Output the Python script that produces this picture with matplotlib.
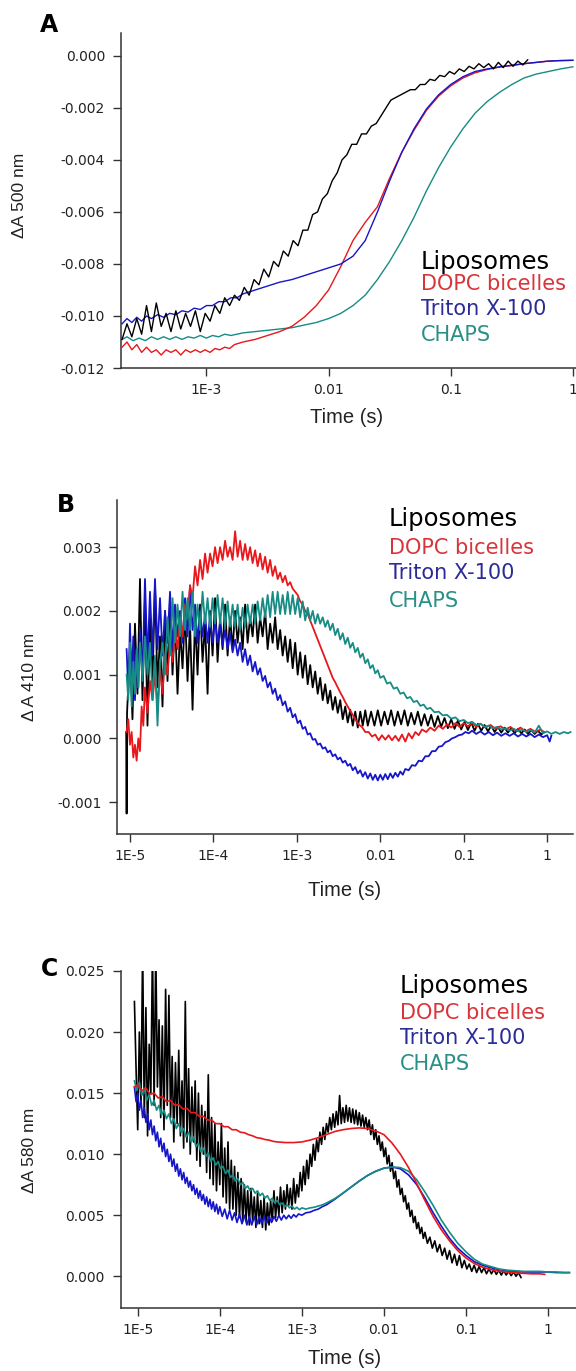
import matplotlib
matplotlib.use("Agg")
import matplotlib.pyplot as plt
from matplotlib.ticker import FixedLocator, NullLocator

plt.rcParams['axes.unicode_minus'] = False

# ---------------- data: (log10 time [s], value [milli dA]) ----------------
# Panel A : dA 500 nm
A_lipo = [(-3.69,-10.9),(-3.65,-10.3),(-3.61,-10.8),(-3.57,-10.1),(-3.53,-10.7),(-3.49,-9.6),(-3.45,-10.6),
          (-3.41,-9.5),(-3.37,-10.4),(-3.33,-9.9),(-3.29,-10.6),(-3.25,-9.8),(-3.21,-10.5),(-3.17,-9.9),
          (-3.13,-10.4),(-3.09,-9.8),(-3.05,-10.6),(-3.01,-9.9),(-2.97,-10.2),(-2.93,-9.6),(-2.89,-9.9),
          (-2.85,-9.3),(-2.81,-9.6),(-2.77,-9.2),(-2.73,-9.4),(-2.69,-8.9),(-2.65,-9.2),(-2.61,-8.6),
          (-2.57,-8.8),(-2.53,-8.2),(-2.49,-8.5),(-2.45,-7.9),(-2.41,-8.1),(-2.37,-7.5),(-2.33,-7.7),
          (-2.29,-7.1),(-2.25,-7.3),(-2.21,-6.7),(-2.17,-6.7),(-2.13,-6.1),(-2.09,-6.0),(-2.05,-5.5),
          (-2.01,-5.3),(-1.97,-4.8),(-1.93,-4.5),(-1.89,-4.0),(-1.85,-3.8),(-1.81,-3.4),(-1.77,-3.4),
          (-1.73,-3.0),(-1.69,-3.0),(-1.65,-2.7),(-1.61,-2.6),(-1.57,-2.3),(-1.53,-2.0),(-1.49,-1.7),
          (-1.45,-1.6),(-1.41,-1.5),(-1.37,-1.4),(-1.33,-1.3),(-1.29,-1.3),(-1.25,-1.1),(-1.21,-1.1),
          (-1.17,-0.9),(-1.13,-0.95),(-1.09,-0.75),(-1.05,-0.8),(-1.01,-0.6),(-0.97,-0.7),(-0.93,-0.5),
          (-0.89,-0.6),(-0.85,-0.4),(-0.81,-0.5),(-0.77,-0.3),(-0.73,-0.45),(-0.69,-0.3),(-0.65,-0.5),
          (-0.61,-0.25),(-0.57,-0.45),(-0.53,-0.2),(-0.49,-0.4),(-0.45,-0.2),(-0.41,-0.35),(-0.37,-0.15)]
A_dopc = [(-3.69,-11.2),(-3.65,-11.0),(-3.61,-11.3),(-3.57,-11.1),(-3.53,-11.4),(-3.49,-11.2),(-3.45,-11.4),
          (-3.41,-11.3),(-3.37,-11.5),(-3.33,-11.3),(-3.29,-11.4),(-3.25,-11.3),(-3.21,-11.5),(-3.17,-11.3),
          (-3.13,-11.4),(-3.09,-11.3),(-3.05,-11.4),(-3.01,-11.3),(-2.97,-11.4),(-2.93,-11.25),(-2.89,-11.3),
          (-2.85,-11.2),(-2.81,-11.25),(-2.77,-11.1),(-2.7,-11.0),(-2.6,-10.9),(-2.5,-10.75),(-2.4,-10.6),
          (-2.3,-10.4),(-2.2,-10.05),(-2.1,-9.6),(-2.0,-9.0),(-1.9,-8.1),(-1.8,-7.1),(-1.7,-6.4),
          (-1.6,-5.8),(-1.5,-4.7),(-1.4,-3.7),(-1.3,-2.85),(-1.2,-2.1),(-1.1,-1.55),(-1.0,-1.15),
          (-0.9,-0.85),(-0.8,-0.65),(-0.7,-0.52),(-0.6,-0.43),(-0.5,-0.37),(-0.4,-0.3),(-0.3,-0.25),
          (-0.2,-0.2),(-0.1,-0.18),(0.0,-0.17)]
A_triton = [(-3.69,-10.3),(-3.65,-10.1),(-3.61,-10.25),(-3.57,-10.05),(-3.53,-10.2),(-3.49,-10.0),(-3.45,-10.1),
            (-3.4,-9.95),(-3.35,-10.05),(-3.3,-9.9),(-3.25,-9.95),(-3.2,-9.8),(-3.15,-9.85),(-3.1,-9.7),
            (-3.05,-9.75),(-3.0,-9.6),(-2.95,-9.6),(-2.9,-9.45),(-2.85,-9.45),(-2.8,-9.3),(-2.75,-9.3),
            (-2.7,-9.15),(-2.6,-9.0),(-2.5,-8.85),(-2.4,-8.7),(-2.3,-8.6),(-2.2,-8.45),(-2.1,-8.3),
            (-2.0,-8.15),(-1.9,-8.0),(-1.8,-7.7),(-1.7,-7.1),(-1.6,-6.0),(-1.5,-4.8),(-1.4,-3.7),
            (-1.3,-2.8),(-1.2,-2.05),(-1.1,-1.5),(-1.0,-1.1),(-0.9,-0.8),(-0.8,-0.6),(-0.7,-0.5),
            (-0.6,-0.42),(-0.5,-0.36),(-0.4,-0.3),(-0.3,-0.25),(-0.2,-0.2),(-0.1,-0.18),(0.0,-0.17)]
A_chaps = [(-3.69,-10.9),(-3.65,-10.8),(-3.6,-10.95),(-3.55,-10.85),(-3.5,-10.95),(-3.45,-10.8),(-3.4,-10.9),
           (-3.35,-10.8),(-3.3,-10.9),(-3.25,-10.8),(-3.2,-10.9),(-3.15,-10.8),(-3.1,-10.85),(-3.05,-10.75),
           (-3.0,-10.85),(-2.95,-10.75),(-2.9,-10.8),(-2.85,-10.7),(-2.8,-10.75),(-2.7,-10.65),(-2.6,-10.6),
           (-2.5,-10.55),(-2.4,-10.5),(-2.3,-10.45),(-2.2,-10.35),(-2.1,-10.25),(-2.0,-10.1),(-1.9,-9.9),
           (-1.8,-9.6),(-1.7,-9.2),(-1.6,-8.6),(-1.5,-7.9),(-1.4,-7.1),(-1.3,-6.2),(-1.2,-5.2),
           (-1.1,-4.3),(-1.0,-3.5),(-0.9,-2.8),(-0.8,-2.2),(-0.7,-1.75),(-0.6,-1.4),(-0.5,-1.1),
           (-0.4,-0.85),(-0.3,-0.7),(-0.2,-0.6),(-0.1,-0.5),(0.0,-0.42)]

# Panel B : dA 410 nm
B_lipo = [(-5.045,0.1),(-5.04,-1.18),(-5.035,0.4),(-5.0,1.4),(-4.97,0.3),(-4.94,1.8),(-4.91,0.7),(-4.88,2.5),
          (-4.85,0.6),(-4.82,2.2),(-4.79,0.2),(-4.76,1.9),(-4.73,0.9),(-4.70,2.4),(-4.67,0.8),(-4.64,1.6),
          (-4.61,0.5),(-4.58,2.0),(-4.55,0.9),(-4.52,2.2),(-4.49,1.0),(-4.46,1.9),(-4.43,0.7),(-4.40,1.7),
          (-4.37,1.1),(-4.34,2.0),(-4.31,0.9),(-4.28,1.8),(-4.25,0.45),(-4.22,1.9),(-4.19,1.0),(-4.16,2.1),
          (-4.13,1.2),(-4.10,1.8),(-4.07,0.7),(-4.04,2.0),(-4.01,1.3),(-3.98,2.2),(-3.95,1.2),(-3.92,1.9),
          (-3.89,1.4),(-3.86,2.1),(-3.83,1.3),(-3.80,1.9),(-3.77,1.4),(-3.74,2.0),(-3.71,1.5),(-3.68,1.9),
          (-3.65,1.4),(-3.62,2.1),(-3.59,1.5),(-3.56,1.9),(-3.53,1.6),(-3.50,2.1),(-3.47,1.5),(-3.44,1.9),
          (-3.41,1.6),(-3.38,2.0),(-3.35,1.4),(-3.32,1.8),(-3.29,1.5),(-3.26,1.9),(-3.23,1.4),(-3.20,1.7),
          (-3.17,1.3),(-3.14,1.6),(-3.11,1.2),(-3.08,1.55),(-3.05,1.1),(-3.02,1.5),(-2.99,1.0),(-2.96,1.35),
          (-2.93,0.95),(-2.90,1.3),(-2.87,0.85),(-2.84,1.15),(-2.81,0.8),(-2.78,1.05),(-2.75,0.7),(-2.72,0.95),
          (-2.69,0.6),(-2.66,0.85),(-2.63,0.55),(-2.60,0.75),(-2.57,0.45),(-2.54,0.65),(-2.51,0.4),(-2.48,0.6),
          (-2.45,0.3),(-2.42,0.5),(-2.39,0.25),(-2.36,0.45),(-2.33,0.2),(-2.30,0.42),(-2.27,0.17),(-2.24,0.42),
          (-2.21,0.2),(-2.18,0.44),(-2.15,0.2),(-2.11,0.42),(-2.07,0.2),(-2.03,0.44),(-1.99,0.2),(-1.95,0.42),
          (-1.91,0.22),(-1.87,0.44),(-1.83,0.2),(-1.79,0.42),(-1.75,0.22),(-1.71,0.44),(-1.67,0.2),(-1.63,0.4),
          (-1.59,0.22),(-1.55,0.42),(-1.51,0.2),(-1.47,0.38),(-1.43,0.2),(-1.39,0.37),(-1.35,0.18),(-1.31,0.35),
          (-1.27,0.18),(-1.23,0.32),(-1.19,0.16),(-1.15,0.3),(-1.11,0.15),(-1.07,0.28),(-1.03,0.14),(-0.99,0.26),
          (-0.95,0.13),(-0.91,0.25),(-0.87,0.12),(-0.83,0.23),(-0.79,0.12),(-0.75,0.21),(-0.71,0.11),(-0.67,0.2),
          (-0.63,0.1),(-0.59,0.18),(-0.55,0.09),(-0.51,0.17),(-0.47,0.09),(-0.43,0.16),(-0.39,0.08),(-0.35,0.15),
          (-0.31,0.08),(-0.27,0.14),(-0.23,0.07),(-0.19,0.13),(-0.15,0.07),(-0.11,0.12),(-0.07,0.06),(-0.04,0.1)]
B_dopc = [(-5.04,0.1),(-5.02,0.3),(-5.0,-0.1),(-4.98,0.1),(-4.96,-0.3),(-4.94,-0.1),(-4.92,-0.35),(-4.90,0.0),
          (-4.88,-0.2),(-4.86,0.5),(-4.84,0.2),(-4.82,0.8),(-4.79,0.4),(-4.76,0.9),(-4.73,0.6),(-4.70,1.0),
          (-4.67,0.5),(-4.64,1.1),(-4.61,0.7),(-4.58,1.3),(-4.55,1.0),(-4.52,1.5),(-4.49,1.2),(-4.46,1.7),
          (-4.43,1.4),(-4.40,1.9),(-4.37,1.6),(-4.34,2.1),(-4.31,1.9),(-4.28,2.4),(-4.25,2.2),(-4.22,2.7),
          (-4.19,2.4),(-4.16,2.8),(-4.13,2.5),(-4.10,2.9),(-4.07,2.6),(-4.04,2.9),(-4.01,2.7),(-3.98,3.0),
          (-3.95,2.75),(-3.92,3.0),(-3.89,2.8),(-3.86,3.1),(-3.83,2.85),(-3.80,3.0),(-3.77,2.8),(-3.74,3.25),
          (-3.71,2.85),(-3.68,3.1),(-3.65,2.8),(-3.62,3.05),(-3.59,2.8),(-3.56,3.0),(-3.53,2.75),(-3.50,2.95),
          (-3.47,2.7),(-3.44,2.9),(-3.41,2.65),(-3.38,2.85),(-3.35,2.6),(-3.32,2.8),(-3.29,2.55),(-3.26,2.7),
          (-3.23,2.5),(-3.20,2.6),(-3.17,2.45),(-3.14,2.55),(-3.11,2.4),(-3.08,2.45),(-3.05,2.35),(-3.02,2.3),
          (-2.99,2.25),(-2.96,2.15),(-2.93,2.1),(-2.90,2.0),(-2.87,1.95),(-2.84,1.85),(-2.81,1.75),(-2.78,1.65),
          (-2.75,1.55),(-2.72,1.45),(-2.69,1.35),(-2.66,1.25),(-2.63,1.15),(-2.60,1.05),(-2.57,0.95),(-2.54,0.88),
          (-2.51,0.8),(-2.48,0.72),(-2.45,0.65),(-2.42,0.57),(-2.39,0.5),(-2.36,0.43),(-2.33,0.37),(-2.30,0.3),
          (-2.26,0.22),(-2.22,0.18),(-2.18,0.1),(-2.14,0.1),(-2.10,0.03),(-2.06,0.06),(-2.02,-0.03),(-1.98,0.05),
          (-1.94,-0.02),(-1.90,0.05),(-1.86,-0.03),(-1.82,0.04),(-1.78,-0.04),(-1.74,0.06),(-1.70,-0.05),(-1.66,0.08),
          (-1.62,0.0),(-1.58,0.1),(-1.54,0.05),(-1.50,0.14),(-1.45,0.1),(-1.40,0.17),(-1.35,0.12),(-1.30,0.2),
          (-1.25,0.15),(-1.20,0.22),(-1.15,0.17),(-1.10,0.24),(-1.05,0.18),(-1.00,0.24),(-0.95,0.19),(-0.90,0.24),
          (-0.85,0.18),(-0.80,0.23),(-0.74,0.17),(-0.68,0.21),(-0.62,0.15),(-0.56,0.19),(-0.50,0.14),(-0.44,0.18),
          (-0.38,0.12),(-0.32,0.17),(-0.26,0.11),(-0.20,0.15),(-0.14,0.1),(-0.08,0.14),(-0.04,0.1)]
B_triton = [(-5.04,1.4),(-5.02,0.7),(-5.0,1.8),(-4.98,0.9),(-4.96,1.6),(-4.94,0.6),(-4.92,1.4),(-4.90,0.8),
            (-4.88,1.7),(-4.85,1.0),(-4.82,2.5),(-4.79,1.2),(-4.76,2.3),(-4.73,1.3),(-4.70,2.5),(-4.67,1.4),
            (-4.64,2.2),(-4.61,1.3),(-4.58,2.0),(-4.55,1.5),(-4.52,2.3),(-4.49,1.4),(-4.46,2.1),(-4.43,1.6),
            (-4.40,2.0),(-4.37,1.5),(-4.34,2.2),(-4.31,1.6),(-4.28,2.4),(-4.25,1.7),(-4.22,2.1),(-4.19,1.5),
            (-4.16,2.0),(-4.13,1.6),(-4.10,1.95),(-4.07,1.5),(-4.04,1.9),(-4.01,1.5),(-3.98,1.85),(-3.95,1.5),
            (-3.92,1.8),(-3.89,1.45),(-3.86,1.7),(-3.83,1.4),(-3.80,1.65),(-3.77,1.35),(-3.74,1.55),(-3.71,1.3),
            (-3.68,1.5),(-3.65,1.2),(-3.62,1.4),(-3.59,1.15),(-3.56,1.3),(-3.53,1.05),(-3.50,1.2),(-3.47,1.0),
            (-3.44,1.1),(-3.41,0.9),(-3.38,0.98),(-3.35,0.8),(-3.32,0.88),(-3.29,0.7),(-3.26,0.78),(-3.23,0.6),
            (-3.20,0.68),(-3.17,0.52),(-3.14,0.58),(-3.11,0.42),(-3.08,0.48),(-3.05,0.33),(-3.02,0.38),(-2.99,0.24),
            (-2.96,0.28),(-2.93,0.15),(-2.90,0.18),(-2.87,0.06),(-2.84,0.08),(-2.81,-0.02),(-2.78,-0.01),(-2.75,-0.1),
            (-2.72,-0.08),(-2.69,-0.16),(-2.66,-0.14),(-2.63,-0.22),(-2.60,-0.19),(-2.57,-0.28),(-2.54,-0.25),
            (-2.51,-0.33),(-2.48,-0.3),(-2.45,-0.38),(-2.42,-0.35),(-2.39,-0.43),(-2.36,-0.4),(-2.33,-0.5),
            (-2.30,-0.45),(-2.27,-0.55),(-2.24,-0.5),(-2.21,-0.6),(-2.18,-0.53),(-2.15,-0.63),(-2.12,-0.55),
            (-2.09,-0.65),(-2.06,-0.57),(-2.03,-0.66),(-2.00,-0.57),(-1.97,-0.65),(-1.94,-0.56),(-1.91,-0.64),
            (-1.88,-0.55),(-1.85,-0.62),(-1.82,-0.54),(-1.79,-0.6),(-1.76,-0.52),(-1.73,-0.57),(-1.70,-0.48),
            (-1.66,-0.5),(-1.62,-0.42),(-1.58,-0.43),(-1.54,-0.35),(-1.50,-0.36),(-1.46,-0.28),(-1.42,-0.28),
            (-1.38,-0.2),(-1.34,-0.2),(-1.30,-0.13),(-1.26,-0.12),(-1.22,-0.06),(-1.18,-0.04),(-1.14,0.0),
            (-1.10,0.02),(-1.06,0.05),(-1.02,0.06),(-0.98,0.1),(-0.94,0.08),(-0.90,0.12),(-0.85,0.07),(-0.80,0.11),
            (-0.75,0.06),(-0.70,0.1),(-0.65,0.05),(-0.60,0.09),(-0.55,0.04),(-0.50,0.08),(-0.45,0.04),(-0.40,0.08),
            (-0.35,0.03),(-0.30,0.07),(-0.25,0.03),(-0.20,0.07),(-0.15,0.02),(-0.10,0.06),(-0.05,0.02),(0.0,0.05),
            (0.03,-0.05),(0.05,0.04)]
B_chaps = [(-5.04,1.0),(-5.02,0.6),(-5.0,1.5),(-4.98,0.5),(-4.96,1.2),(-4.94,0.7),(-4.92,1.4),(-4.90,0.8),
           (-4.88,1.5),(-4.85,0.9),(-4.82,1.6),(-4.79,1.0),(-4.76,1.5),(-4.73,0.6),(-4.70,1.3),(-4.67,0.2),
           (-4.64,1.2),(-4.61,1.5),(-4.58,1.0),(-4.55,1.9),(-4.52,1.3),(-4.49,2.2),(-4.46,1.5),(-4.43,2.1),
           (-4.40,1.6),(-4.37,2.3),(-4.34,1.7),(-4.31,2.2),(-4.28,1.7),(-4.25,2.3),(-4.22,1.6),(-4.19,2.1),
           (-4.16,1.7),(-4.13,2.3),(-4.10,1.8),(-4.07,2.2),(-4.04,1.75),(-4.01,2.2),(-3.98,1.8),(-3.95,2.25),
           (-3.92,1.8),(-3.89,2.2),(-3.86,1.75),(-3.83,2.15),(-3.80,1.75),(-3.77,2.1),(-3.74,1.75),(-3.71,2.1),
           (-3.68,1.7),(-3.65,2.05),(-3.62,1.75),(-3.59,2.1),(-3.56,1.8),(-3.53,2.1),(-3.50,1.8),(-3.47,2.15),
           (-3.44,1.85),(-3.41,2.2),(-3.38,1.9),(-3.35,2.25),(-3.32,1.9),(-3.29,2.3),(-3.26,1.95),(-3.23,2.3),
           (-3.20,1.95),(-3.17,2.25),(-3.14,1.95),(-3.11,2.3),(-3.08,1.95),(-3.05,2.25),(-3.02,1.95),(-2.99,2.2),
           (-2.96,1.9),(-2.93,2.15),(-2.90,1.85),(-2.87,2.05),(-2.84,1.85),(-2.81,2.0),(-2.78,1.8),(-2.75,1.95),
           (-2.72,1.8),(-2.69,1.9),(-2.66,1.75),(-2.63,1.85),(-2.60,1.7),(-2.57,1.8),(-2.54,1.62),(-2.51,1.72),
           (-2.48,1.55),(-2.45,1.65),(-2.42,1.48),(-2.39,1.58),(-2.36,1.42),(-2.33,1.5),(-2.30,1.35),(-2.27,1.42),
           (-2.24,1.27),(-2.21,1.33),(-2.18,1.18),(-2.15,1.24),(-2.12,1.1),(-2.09,1.15),(-2.06,1.02),(-2.03,1.07),
           (-2.00,0.95),(-1.96,0.98),(-1.92,0.86),(-1.88,0.88),(-1.84,0.78),(-1.80,0.8),(-1.76,0.7),(-1.72,0.72),
           (-1.68,0.63),(-1.64,0.65),(-1.60,0.57),(-1.56,0.59),(-1.52,0.51),(-1.48,0.53),(-1.44,0.46),(-1.40,0.48),
           (-1.35,0.41),(-1.30,0.42),(-1.25,0.36),(-1.20,0.37),(-1.15,0.31),(-1.10,0.33),(-1.05,0.27),(-1.00,0.29),
           (-0.95,0.24),(-0.90,0.26),(-0.85,0.21),(-0.80,0.23),(-0.75,0.18),(-0.70,0.2),(-0.65,0.16),(-0.60,0.18),
           (-0.55,0.14),(-0.50,0.16),(-0.45,0.12),(-0.40,0.15),(-0.35,0.11),(-0.30,0.14),(-0.25,0.1),(-0.20,0.13),
           (-0.15,0.09),(-0.10,0.2),(-0.05,0.08),(0.0,0.11),(0.05,0.07),(0.10,0.1),(0.15,0.07),(0.20,0.1),
           (0.25,0.08),(0.28,0.1)]

# Panel C : dA 580 nm
C_lipo = [(-5.04,22.5),(-5.02,17.0),(-5.00,12.0),(-4.98,20.0),(-4.96,14.0),(-4.94,27.0),(-4.92,13.0),(-4.90,22.0),
          (-4.88,11.5),(-4.86,19.0),(-4.84,15.0),(-4.82,27.0),(-4.80,14.0),(-4.78,27.0),(-4.76,15.5),(-4.74,21.0),
          (-4.72,13.0),(-4.70,20.5),(-4.68,12.0),(-4.66,23.5),(-4.64,14.0),(-4.62,23.0),(-4.60,13.0),(-4.58,18.0),
          (-4.56,11.0),(-4.54,17.5),(-4.52,12.5),(-4.50,18.5),(-4.48,11.5),(-4.46,16.0),(-4.44,10.5),(-4.42,22.5),
          (-4.40,11.0),(-4.38,17.0),(-4.36,10.0),(-4.34,15.5),(-4.32,11.0),(-4.30,16.0),(-4.28,9.5),(-4.26,15.0),
          (-4.24,9.0),(-4.22,14.0),(-4.20,10.0),(-4.18,13.5),(-4.16,8.5),(-4.14,16.5),(-4.12,8.0),(-4.10,13.0),
          (-4.08,7.5),(-4.06,12.5),(-4.04,7.0),(-4.02,11.0),(-4.00,7.5),(-3.98,12.5),(-3.96,6.5),(-3.94,10.5),
          (-3.92,6.0),(-3.90,11.0),(-3.88,5.5),(-3.86,9.5),(-3.84,5.5),(-3.82,9.0),(-3.80,5.0),(-3.78,8.5),
          (-3.76,4.8),(-3.74,8.0),(-3.72,4.5),(-3.70,7.5),(-3.68,4.5),(-3.66,7.0),(-3.64,4.2),(-3.62,7.2),
          (-3.60,4.5),(-3.58,6.5),(-3.56,4.0),(-3.54,6.8),(-3.52,4.3),(-3.50,6.2),(-3.48,4.0),(-3.46,6.5),
          (-3.44,3.8),(-3.42,6.0),(-3.40,4.2),(-3.38,6.2),(-3.36,4.5),(-3.34,7.0),(-3.32,4.8),(-3.30,6.5),
          (-3.28,5.0),(-3.26,7.3),(-3.24,5.2),(-3.22,7.0),(-3.20,5.5),(-3.18,7.5),(-3.16,5.8),(-3.14,7.2),
          (-3.12,5.5),(-3.10,8.0),(-3.08,6.0),(-3.06,7.5),(-3.04,6.5),(-3.02,8.5),(-3.00,7.0),(-2.98,9.0),
          (-2.96,7.5),(-2.94,9.5),(-2.92,8.0),(-2.90,10.0),(-2.88,9.0),(-2.86,10.8),(-2.84,9.5),(-2.82,11.2),
          (-2.80,10.2),(-2.78,11.8),(-2.76,10.8),(-2.74,12.2),(-2.72,11.2),(-2.70,12.5),(-2.68,11.8),(-2.66,13.0),
          (-2.64,12.0),(-2.62,13.3),(-2.60,12.2),(-2.58,13.5),(-2.56,12.4),(-2.54,14.8),(-2.52,12.5),(-2.50,13.8),
          (-2.48,12.6),(-2.46,14.0),(-2.44,12.7),(-2.42,13.8),(-2.40,12.6),(-2.38,13.7),(-2.36,12.5),(-2.34,13.6),
          (-2.32,12.4),(-2.30,13.4),(-2.28,12.3),(-2.26,13.2),(-2.24,12.2),(-2.22,13.0),(-2.20,12.0),(-2.18,12.8),
          (-2.16,11.6),(-2.14,12.4),(-2.12,11.2),(-2.10,12.0),(-2.08,10.8),(-2.06,11.5),(-2.04,10.3),(-2.02,11.0),
          (-2.00,9.8),(-1.98,10.5),(-1.96,9.2),(-1.94,9.9),(-1.92,8.6),(-1.90,9.3),(-1.88,8.0),(-1.86,8.6),
          (-1.84,7.3),(-1.82,7.9),(-1.80,6.7),(-1.78,7.2),(-1.76,6.1),(-1.74,6.6),(-1.72,5.5),(-1.70,6.0),
          (-1.68,4.9),(-1.66,5.4),(-1.64,4.4),(-1.62,4.9),(-1.60,3.9),(-1.58,4.4),(-1.56,3.5),(-1.54,4.0),
          (-1.52,3.1),(-1.50,3.6),(-1.47,2.7),(-1.44,3.2),(-1.41,2.3),(-1.38,2.9),(-1.35,2.0),(-1.32,2.6),
          (-1.29,1.7),(-1.26,2.3),(-1.23,1.4),(-1.20,2.1),(-1.17,1.1),(-1.14,1.8),(-1.11,0.9),(-1.08,1.7),
          (-1.05,0.7),(-1.02,1.3),(-0.99,0.6),(-0.96,1.0),(-0.93,0.4),(-0.90,0.9),(-0.87,0.3),(-0.84,0.8),
          (-0.81,0.3),(-0.78,0.7),(-0.75,0.2),(-0.72,0.6),(-0.69,0.2),(-0.66,0.55),(-0.63,0.15),(-0.60,0.5),
          (-0.57,0.1),(-0.54,0.45),(-0.51,0.1),(-0.48,0.4),(-0.45,0.05),(-0.42,0.35),(-0.39,0.0),(-0.36,0.3),
          (-0.33,-0.1)]
C_dopc = [(-5.04,15.5),(-5.0,15.7),(-4.95,15.2),(-4.9,15.4),(-4.85,14.9),(-4.8,15.0),(-4.75,14.6),(-4.7,14.7),
          (-4.65,14.3),(-4.6,14.4),(-4.55,14.0),(-4.5,14.05),(-4.45,13.7),(-4.4,13.75),(-4.35,13.4),(-4.3,13.4),
          (-4.25,13.1),(-4.2,13.1),(-4.15,12.8),(-4.1,12.8),(-4.05,12.5),(-4.0,12.5),(-3.95,12.25),(-3.9,12.25),
          (-3.85,12.0),(-3.8,12.0),(-3.75,11.8),(-3.7,11.75),(-3.65,11.6),(-3.6,11.5),(-3.55,11.35),(-3.5,11.3),
          (-3.45,11.2),(-3.4,11.15),(-3.35,11.05),(-3.3,11.0),(-3.2,10.95),(-3.1,10.95),(-3.0,11.0),(-2.9,11.15),
          (-2.8,11.35),(-2.7,11.6),(-2.6,11.85),(-2.5,12.0),(-2.4,12.1),(-2.3,12.15),(-2.2,12.1),(-2.1,11.9),
          (-2.0,11.6),(-1.9,10.9),(-1.8,10.0),(-1.7,8.9),(-1.6,7.6),(-1.5,6.2),(-1.4,4.9),(-1.3,3.8),
          (-1.2,2.9),(-1.1,2.1),(-1.0,1.5),(-0.9,1.05),(-0.8,0.75),(-0.7,0.55),(-0.6,0.42),(-0.5,0.34),
          (-0.4,0.28),(-0.3,0.24),(-0.2,0.2),(-0.1,0.2),(-0.04,0.15)]
C_triton = [(-5.04,15.5),(-5.02,14.3),(-5.00,15.0),(-4.98,13.6),(-4.96,14.4),(-4.94,13.0),(-4.92,13.8),(-4.90,12.6),
            (-4.88,13.3),(-4.86,12.0),(-4.84,12.8),(-4.82,11.6),(-4.80,12.3),(-4.78,11.1),(-4.76,11.8),(-4.74,10.6),
            (-4.72,11.3),(-4.70,10.2),(-4.68,10.9),(-4.66,9.8),(-4.64,10.4),(-4.62,9.4),(-4.60,10.0),(-4.58,9.0),
            (-4.56,9.6),(-4.54,8.6),(-4.52,9.2),(-4.50,8.2),(-4.48,8.8),(-4.46,7.9),(-4.44,8.5),(-4.42,7.6),
            (-4.40,8.1),(-4.38,7.3),(-4.36,7.8),(-4.34,7.0),(-4.32,7.5),(-4.30,6.7),(-4.28,7.2),(-4.26,6.4),
            (-4.24,7.0),(-4.22,6.2),(-4.20,6.7),(-4.18,5.9),(-4.16,6.5),(-4.14,5.7),(-4.12,6.3),(-4.10,5.5),
            (-4.08,6.1),(-4.06,5.3),(-4.04,5.9),(-4.02,5.1),(-4.00,5.7),(-3.97,4.9),(-3.94,5.5),(-3.91,4.7),
            (-3.88,5.4),(-3.85,4.6),(-3.82,5.2),(-3.79,4.4),(-3.76,5.1),(-3.73,4.3),(-3.70,5.0),(-3.67,4.2),
            (-3.64,4.9),(-3.61,4.2),(-3.58,4.9),(-3.55,4.2),(-3.52,4.9),(-3.49,4.3),(-3.46,4.9),(-3.43,4.3),
            (-3.40,4.9),(-3.37,4.4),(-3.34,4.9),(-3.31,4.5),(-3.28,5.0),(-3.25,4.6),(-3.22,5.0),(-3.19,4.7),
            (-3.16,5.0),(-3.13,4.75),(-3.10,5.05),(-3.07,4.85),(-3.04,5.1),(-3.0,5.0),(-2.95,5.2),(-2.9,5.25),
            (-2.85,5.4),(-2.8,5.5),(-2.75,5.7),(-2.7,5.85),(-2.6,6.3),(-2.5,6.8),(-2.4,7.3),(-2.3,7.8),
            (-2.2,8.25),(-2.1,8.6),(-2.0,8.85),(-1.9,8.95),(-1.8,8.8),(-1.7,8.3),(-1.6,7.5),(-1.5,6.4),
            (-1.4,5.2),(-1.3,4.1),(-1.2,3.1),(-1.1,2.3),(-1.0,1.7),(-0.9,1.2),(-0.8,0.9),(-0.7,0.7),
            (-0.6,0.55),(-0.5,0.45),(-0.4,0.4),(-0.3,0.35),(-0.2,0.35),(-0.1,0.35),(0.0,0.35),(0.1,0.3),
            (0.2,0.3),(0.26,0.3)]
C_chaps = [(-5.04,16.0),(-5.01,15.2),(-4.98,15.9),(-4.95,14.8),(-4.92,15.4),(-4.89,14.4),(-4.86,14.9),(-4.83,14.0),
           (-4.80,14.4),(-4.77,13.6),(-4.74,14.0),(-4.71,13.2),(-4.68,13.6),(-4.65,12.9),(-4.62,13.3),(-4.59,12.5),
           (-4.56,12.9),(-4.53,12.1),(-4.50,12.5),(-4.47,11.8),(-4.44,12.1),(-4.41,11.4),(-4.38,11.8),(-4.35,11.0),
           (-4.32,11.4),(-4.29,10.6),(-4.26,10.9),(-4.23,10.2),(-4.20,10.5),(-4.17,9.8),(-4.14,10.1),(-4.11,9.4),
           (-4.08,9.7),(-4.05,9.1),(-4.02,9.4),(-3.99,8.8),(-3.96,9.0),(-3.93,8.4),(-3.90,8.7),(-3.87,8.1),
           (-3.84,8.3),(-3.81,7.8),(-3.78,8.0),(-3.75,7.5),(-3.72,7.7),(-3.69,7.2),(-3.66,7.4),(-3.63,7.0),
           (-3.60,7.2),(-3.57,6.8),(-3.54,7.0),(-3.51,6.6),(-3.48,6.8),(-3.45,6.4),(-3.42,6.6),(-3.39,6.2),
           (-3.36,6.4),(-3.33,6.0),(-3.30,6.2),(-3.27,5.85),(-3.24,6.0),(-3.21,5.7),(-3.18,5.85),(-3.15,5.6),
           (-3.12,5.75),(-3.09,5.5),(-3.06,5.65),(-3.03,5.45),(-3.0,5.6),(-2.95,5.5),(-2.9,5.6),(-2.85,5.65),
           (-2.8,5.75),(-2.75,5.85),(-2.7,6.0),(-2.6,6.35),(-2.5,6.8),(-2.4,7.3),(-2.3,7.8),(-2.2,8.25),
           (-2.1,8.6),(-2.0,8.85),(-1.9,8.95),(-1.8,8.9),(-1.7,8.6),(-1.6,7.9),(-1.5,6.9),(-1.4,5.8),
           (-1.3,4.6),(-1.2,3.6),(-1.1,2.7),(-1.0,2.0),(-0.9,1.4),(-0.8,1.0),(-0.7,0.8),(-0.6,0.6),
           (-0.5,0.5),(-0.4,0.45),(-0.3,0.4),(-0.2,0.4),(-0.1,0.4),(0.0,0.35),(0.1,0.35),(0.2,0.3),(0.26,0.3)]

series_names = ["Liposomes", "DOPC bicelles", "Triton X-100", "CHAPS"]
A_yticks = [0.000, -0.002, -0.004, -0.006, -0.008, -0.010, -0.012]
B_yticks = [0.003, 0.002, 0.001, 0.000, -0.001]
C_yticks = [0.025, 0.020, 0.015, 0.010, 0.005, 0.000]
A_xticks = [1e-3, 1e-2, 1e-1, 1.0]
A_xlabels = ["1E-3", "0.01", "0.1", "1"]
BC_xticks = [1e-5, 1e-4, 1e-3, 1e-2, 1e-1, 1.0]
BC_xlabels = ["1E-5", "1E-4", "1E-3", "0.01", "0.1", "1"]
ylabels = ["\u0394A 500 nm", "\u0394 A 410 nm", "\u0394A 580 nm"]

# ---------------- styles ----------------
line_colors = {"Liposomes": "#000000", "DOPC bicelles": "#e8171b",
               "Triton X-100": "#1616c8", "CHAPS": "#178c84"}
text_colors = {"Liposomes": "#000000", "DOPC bicelles": "#d8343a",
               "Triton X-100": "#2c2c98", "CHAPS": "#2a8f86"}

W, H = 576, 1371
fig = plt.figure(figsize=(W / 100, H / 100), dpi=100)
fig.patch.set_facecolor("white")


def px_axes(left, top, right, bottom):
    return fig.add_axes([left / W, 1 - bottom / H, (right - left) / W, (bottom - top) / H])


def split(pairs):
    return [10 ** p[0] for p in pairs], [p[1] * 1e-3 for p in pairs]


def style_axis(ax, xlim, ylim, xticks, xlabels, yticks):
    ax.set_xscale("log")
    ax.set_xlim(*xlim)
    ax.set_ylim(*ylim)
    for s in ("top", "right"):
        ax.spines[s].set_visible(False)
    for s in ("left", "bottom"):
        ax.spines[s].set_linewidth(1.1)
        ax.spines[s].set_color("#333333")
    ax.xaxis.set_major_locator(FixedLocator(xticks))
    ax.set_xticklabels(xlabels)
    ax.xaxis.set_minor_locator(NullLocator())
    ax.set_yticks(yticks)
    ax.set_yticklabels(["%.3f" % v for v in yticks])
    ax.tick_params(axis="both", direction="out", length=5.5, width=1.0, color="#333333",
                   labelsize=10, labelcolor="#222222")
    ax.tick_params(axis="x", pad=5)
    ax.tick_params(axis="y", pad=6)
    for lab in ax.get_xticklabels() + ax.get_yticklabels():
        lab.set_family("DejaVu Sans")


def ftext(x, y, s, **kw):
    fig.text(x / W, 1 - y / H, s, **kw)


panels = [
    dict(ax=px_axes(121, 33, 576, 368), data=[A_lipo, A_dopc, A_triton, A_chaps],
         order=[3, 1, 2, 0], lw=1.0, xlim=(2.0e-4, 1.06), ylim=(-0.012, 0.00088),
         xticks=A_xticks, xlabels=A_xlabels, yticks=A_yticks,
         letter=("A", 49, 25), ylab=(20, 195), tlab=(347, 417), leg=(421, [262, 284, 309, 335])),
    dict(ax=px_axes(117.3, 500, 573, 834), data=[B_lipo, B_dopc, B_triton, B_chaps],
         order=[0, 2, 1, 3], lw=1.3, xlim=(7.05e-6, 2.04), ylim=(-0.0015, 0.00374),
         xticks=BC_xticks, xlabels=BC_xlabels, yticks=B_yticks,
         letter=("B", 66, 505), ylab=(30, 677), tlab=(345, 890), leg=(389, [519, 548, 573, 601])),
    dict(ax=px_axes(120.5, 971, 576, 1308), data=[C_lipo, C_dopc, C_triton, C_chaps],
         order=[0, 2, 3, 1], lw=1.2, xlim=(6.17e-6, 2.19), ylim=(-0.0026, 0.025),
         xticks=BC_xticks, xlabels=BC_xlabels, yticks=C_yticks,
         letter=("C", 49, 969), ylab=(29, 1150), tlab=(345, 1358), leg=(400, [986, 1013, 1038, 1064])),
]

for p, yl in zip(panels, ylabels):
    ax = p["ax"]
    for z, i in enumerate(p["order"]):
        t, y = split(p["data"][i])
        ax.plot(t, y, color=line_colors[series_names[i]], lw=p["lw"], zorder=2 + z)
    style_axis(ax, p["xlim"], p["ylim"], p["xticks"], p["xlabels"], p["yticks"])
    L, lx, ly = p["letter"]
    ftext(lx, ly, L, fontsize=17, fontweight="bold", family="DejaVu Sans", ha="center", va="center")
    ftext(p["ylab"][0], p["ylab"][1], yl, fontsize=12.5, family="Liberation Sans", rotation=90,
          ha="center", va="center", color="#222222")
    ftext(p["tlab"][0], p["tlab"][1], "Time (s)", fontsize=14.5, family="Liberation Sans",
          ha="center", va="center", color="#222222")
    gx, gys = p["leg"]
    for i, (name, gy) in enumerate(zip(series_names, gys)):
        ftext(gx, gy, name, fontsize=17.5 if i == 0 else 15, family="DejaVu Sans",
              ha="left", va="center", color=text_colors[name])

fig.savefig("out.png", dpi=100, facecolor="white")
